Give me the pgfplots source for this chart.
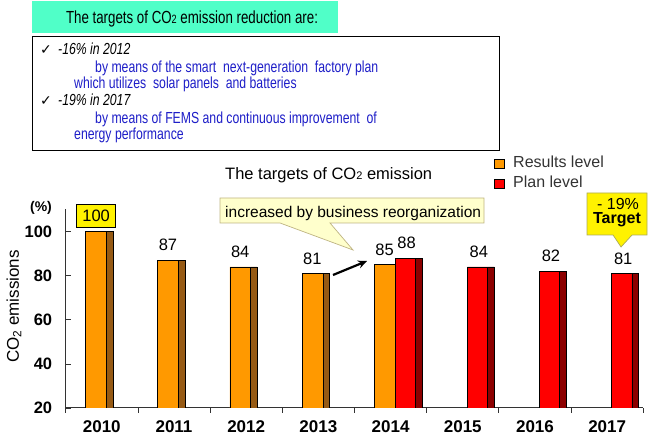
\documentclass[border=0pt]{standalone}
\usepackage{fontspec}
\setmainfont{Liberation Sans}
\newfontfamily\narrowfont{Liberation Sans}[FakeStretch=0.765]
\newfontfamily\headfont{Liberation Sans}[FakeStretch=0.76]
\newfontfamily\symfont{DejaVu Sans}
\usepackage{pgfplots}
\pgfplotsset{compat=1.18}
\usetikzlibrary{arrows.meta}
\definecolor{orgF}{RGB}{255,153,0}
\definecolor{orgS}{RGB}{150,90,20}
\definecolor{redF}{RGB}{255,0,0}
\definecolor{redS}{RGB}{140,0,0}
\definecolor{aqua}{RGB}{80,255,200}
\definecolor{txtblue}{RGB}{30,30,200}
\definecolor{callout}{RGB}{255,255,204}
\definecolor{calloutb}{RGB}{190,180,130}
\definecolor{tgtb}{RGB}{170,170,90}
\begin{document}
\begin{tikzpicture}
\useasboundingbox (0,0) rectangle (655pt,438pt);
\begin{axis}[
  at={(65.7pt,30pt)}, anchor=south west,
  scale only axis, width=577.6pt, height=199pt,
  xmin=-0.5, xmax=7.5, ymin=20, ymax=110.3,
  axis x line*=bottom, axis y line*=left,
  axis line style={line width=1pt, black!80},
  xtick={0,...,7},
  xticklabels={2010,2011,2012,2013,2014,2015,2016,2017},
  major x tick style={draw=none},
  minor xtick={-0.5,0.5,...,7.5},
  minor x tick style={black!80, line width=0.8pt},
  tick align=outside,
  major tick length=5pt, minor tick length=5pt,
  ytick={20,40,60,80,100},
  y tick style={xshift=5pt, black!80, line width=0.8pt},
  xticklabel style={font=\fontsize{17}{20}\selectfont\bfseries, yshift=-4pt},
  yticklabel style={font=\fontsize{16.5}{19}\selectfont\bfseries, xshift=-5pt},
  /pgf/number format/assume math mode=true,
  ylabel={CO\textsubscript{2} emissions},
  ylabel style={font=\fontsize{17}{20}\selectfont, at={(axis description cs:-0.0895,0.51)}, anchor=center},
  clip mode=individual,
]
% results level: side face
\addplot[ybar, bar width=6.5pt, bar shift=7.75pt, fill=orgS, draw=black, line width=0.6pt]
  coordinates {(0,100) (1,87) (2,84) (3,81) (4,85)};
% results level: front face
\addplot[ybar, bar width=20.8pt, bar shift=-5.9pt, fill=orgF, draw=black, line width=0.6pt,
  nodes near coords,
  nodes near coords style={font=\fontsize{16.5}{19}\selectfont, inner sep=2pt, yshift=7pt, xshift=-6pt}]
  coordinates {(1,87) (2,84) (3,81) (4,85)};
\addplot[ybar, bar width=20.8pt, bar shift=-5.9pt, fill=orgF, draw=black, line width=0.6pt,
  nodes near coords,
  nodes near coords style={font=\fontsize{16.5}{19}\selectfont, fill=yellow, draw=black, line width=0.6pt, inner xsep=5.6pt, inner ysep=5.75pt, yshift=3.7pt, xshift=-5.7pt}]
  coordinates {(0,100)};
% plan level: front face
\addplot[ybar, bar width=20.3pt, bar shift=14.65pt, fill=redF, draw=black, line width=0.6pt,
  nodes near coords,
  nodes near coords style={font=\fontsize{16.5}{19}\selectfont, inner sep=2pt, yshift=7pt, xshift=16pt}]
  coordinates {(4,88) (5,84) (6,82) (7,81)};
% plan level: side face
\addplot[ybar, bar width=6.8pt, bar shift=28.2pt, fill=redS, draw=black, line width=0.6pt]
  coordinates {(4,88) (5,84) (6,82) (7,81)};
\end{axis}
\begin{scope}[x=1pt,y=-1pt,yshift=438pt]
  % header
  \fill[aqua] (32,1) rectangle (338,33);
  \node[font=\headfont\fontsize{17.5}{21}\selectfont, anchor=base] at (192,23.5)
    {The targets of CO{\fontsize{12}{14}\selectfont 2} emission reduction are:};
  \draw[black, line width=0.8pt, fill=white] (32,36) rectangle (499,150);
  \begin{scope}[every node/.style={anchor=base west, inner sep=0pt, font=\narrowfont\fontsize{16}{18}\selectfont}]
    \node[font=\symfont\fontsize{14}{16}\selectfont] at (40,55) {✓};
    \node at (58,55) {\itshape -16\% in 2012};
    \node[text=txtblue] at (95,72.5) {by means of the smart\ \ next-generation\ \ factory plan};
    \node[text=txtblue] at (74,88.5) {which utilizes\ \ solar panels\ \ and batteries};
    \node[font=\symfont\fontsize{14}{16}\selectfont] at (40,106) {✓};
    \node at (58,106) {\itshape -19\% in 2017};
    \node[text=txtblue] at (95,124) {by means of FEMS and continuous improvement\ \ of};
    \node[text=txtblue] at (74,140) {energy performance};
  \end{scope}
  % chart title
  \node[anchor=base west, inner sep=0pt, font=\fontsize{16.5}{19}\selectfont] at (225,180)
    {The targets of CO{\fontsize{11}{13}\selectfont 2} emission};
  % legend
  \filldraw[fill=orgF, draw=black, line width=0.5pt] (494,159.5) rectangle (504,168.5);
  \node[anchor=base west, inner sep=0pt, text=black!80, font=\fontsize{16}{19}\selectfont] at (513,167.3) {Results\ level};
  \filldraw[fill=redF, draw=black, line width=0.5pt] (494,179) rectangle (504,188);
  \node[anchor=base west, inner sep=0pt, text=black!80, font=\fontsize{16}{19}\selectfont] at (513,187.3) {Plan\ level};
  % (%) label
  \node[font=\fontsize{14}{17}\selectfont\bfseries] at (41,208) {(\%)};
  % callout: business reorganization
  \filldraw[fill=callout, draw=calloutb, line width=0.7pt]
    (220,198) -- (484,198) -- (484,223) -- (330,223) -- (353,250) -- (280,223) -- (220,223) -- cycle;
  \node[anchor=base west, inner sep=0pt, font=\fontsize{15.5}{18}\selectfont] at (225,217.3)
    {increased by business reorganization};
  % target callout
  \filldraw[fill=yellow, draw=tgtb, line width=0.7pt]
    (587,193) -- (647,193) -- (647,235) -- (632,235) -- (621,247) -- (613,235) -- (587,235) -- cycle;
  \node[anchor=base, inner sep=0pt, font=\fontsize{16}{19}\selectfont] at (618,209.5) {-\ 19\%};
  \node[anchor=base, inner sep=0pt, font=\fontsize{16}{19}\selectfont\bfseries] at (617,224) {Target};
  % arrow
  \draw[line width=2.2pt, -{Stealth[length=9pt, width=8pt]}] (333,275) -- (367,261);
\end{scope}
\end{tikzpicture}
\end{document}
